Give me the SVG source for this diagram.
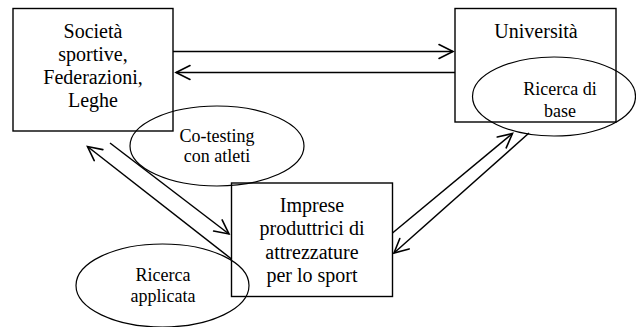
<svg xmlns="http://www.w3.org/2000/svg" width="636" height="327" viewBox="0 0 636 327">
  <defs>
    <marker id="open-arrow" markerUnits="userSpaceOnUse" markerWidth="20" markerHeight="20" viewBox="-16 -10 20 20" refX="0" refY="0" orient="auto">
      <path d="M -14 -7 L 0 0 L -14 7" fill="none" stroke="#000" stroke-width="1.6" stroke-linecap="round" stroke-linejoin="miter"/>
    </marker>
  </defs>
  <style>
    .box { fill: none; stroke: #000; stroke-width: 1.4; }
    .oval { fill: none; stroke: #000; stroke-width: 1.2; }
    text { font-family: 'Liberation Serif', 'DejaVu Serif', serif; fill: #000; text-anchor: middle; }
    .big { font-size: 20px; }
    .small { font-size: 18px; }
    .link { fill: none; stroke: #000; stroke-width: 1.5; marker-end: url(#open-arrow); }
  </style>
  <rect width="636" height="327" fill="#fff"/>

  <g id="societa" font-family="Liberation Serif, serif">
    <rect class="box" x="13" y="8.5" width="160" height="122.5"/>
    <text class="big" x="93" y="37.5">Società</text>
    <text class="big" x="93" y="60.5">sportive,</text>
    <text class="big" x="93" y="83.5">Federazioni,</text>
    <text class="big" x="93" y="106.5">Leghe</text>
  </g>

  <g id="universita" font-family="Liberation Serif, serif">
    <rect class="box" x="455" y="8.5" width="161" height="113.5"/>
    <text class="big" x="536" y="37.5">Università</text>
  </g>

  <g id="ricerca-base" font-family="Liberation Serif, serif">
    <ellipse class="oval" cx="554" cy="96.5" rx="81.5" ry="39.5"/>
    <text class="small" x="560" y="95">Ricerca di</text>
    <text class="small" x="560" y="116.5">base</text>
  </g>

  <g id="co-testing" font-family="Liberation Serif, serif">
    <ellipse class="oval" cx="217" cy="146" rx="87" ry="40"/>
    <text class="small" x="217" y="141.5">Co-testing</text>
    <text class="small" x="217" y="162">con atleti</text>
  </g>

  <g id="imprese" font-family="Liberation Serif, serif">
    <rect class="box" x="231.5" y="183" width="161" height="113.5"/>
    <text class="big" x="312" y="211.5">Imprese</text>
    <text class="big" x="312" y="235">produttrici di</text>
    <text class="big" x="312" y="258.5">attrezzature</text>
    <text class="big" x="312" y="282">per lo sport</text>
  </g>

  <g id="ricerca-applicata" font-family="Liberation Serif, serif">
    <ellipse class="oval" cx="162.5" cy="285.5" rx="86.5" ry="41.5"/>
    <text class="small" x="163" y="280.5">Ricerca</text>
    <text class="small" x="163" y="302">applicata</text>
  </g>

  <g id="connectors">
    <line class="link" x1="173" y1="51.5" x2="453" y2="51.5"/>
    <line class="link" x1="455" y1="72.5" x2="176" y2="72.5"/>
    <line class="link" x1="110" y1="143" x2="229" y2="234"/>
    <line class="link" x1="231.5" y1="259" x2="87.5" y2="146.5"/>
    <line class="link" x1="392.5" y1="233" x2="512.5" y2="133.5"/>
    <line class="link" x1="529" y1="133" x2="394" y2="253"/>
  </g>
</svg>
